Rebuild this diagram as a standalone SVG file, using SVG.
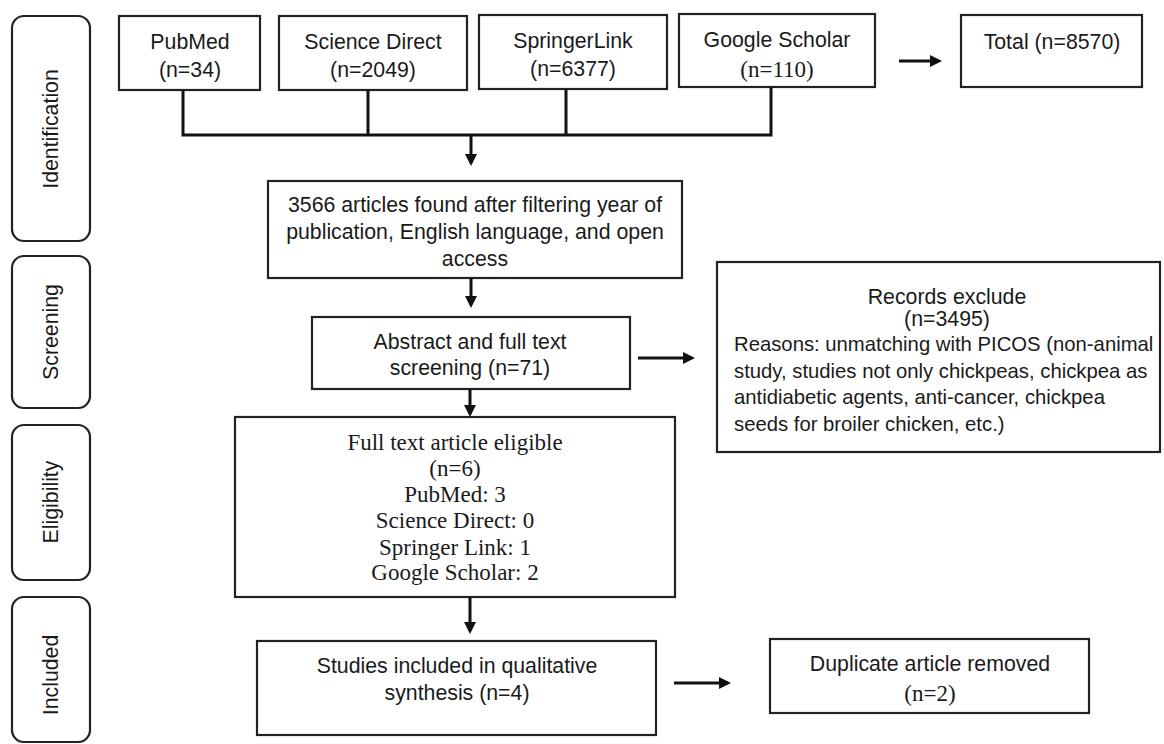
<svg xmlns="http://www.w3.org/2000/svg" width="1164" height="744" viewBox="0 0 1164 744">
<style>
.box{fill:#fff;stroke:#222;stroke-width:2.2}
.side{fill:#fff;stroke:#222;stroke-width:2.2}
.t{font-family:"Liberation Sans",Arial,sans-serif;font-size:21.3px;fill:#1a1a1a;text-anchor:middle}
.tl{font-family:"Liberation Sans",Arial,sans-serif;font-size:20.3px;fill:#1a1a1a}
.s{font-family:"Liberation Serif","Times New Roman",serif;font-size:23px;fill:#1a1a1a;text-anchor:middle}
.ln{fill:none;stroke:#111;stroke-width:3}
.ar{fill:none;stroke:#111;stroke-width:3;marker-end:url(#ah)}
</style>
<defs>
<marker id="ah" markerUnits="userSpaceOnUse" markerWidth="12" markerHeight="12" refX="9" refY="6" orient="auto">
<path d="M0,0 L12,6 L0,12 z" fill="#111"/>
</marker>
</defs>
<rect width="1164" height="744" fill="#fff"/>

<g id="stage-identification"><rect class="side" x="12" y="16" width="78" height="225" rx="12"/><text class="t" transform="translate(58,129) rotate(-90)">Identification</text></g>
<g id="stage-screening"><rect class="side" x="12" y="256" width="78" height="152" rx="12"/><text class="t" transform="translate(58,332) rotate(-90)">Screening</text></g>
<g id="stage-eligibility"><rect class="side" x="12" y="425" width="78" height="155" rx="12"/><text class="t" transform="translate(58,502) rotate(-90)">Eligibility</text></g>
<g id="stage-included"><rect class="side" x="12" y="597" width="78" height="145" rx="12"/><text class="t" transform="translate(58,675) rotate(-90)">Included</text></g>

<g id="pubmed"><rect class="box" x="119" y="16" width="141" height="74"/><text class="t" x="190" y="49">PubMed</text><text class="t" x="190" y="77">(n=34)</text></g>
<g id="sciencedirect"><rect class="box" x="279" y="16" width="188" height="74"/><text class="t" x="373" y="49">Science Direct</text><text class="t" x="373" y="77">(n=2049)</text></g>
<g id="springerlink"><rect class="box" x="479" y="15" width="188" height="74"/><text class="t" x="573" y="48">SpringerLink</text><text class="t" x="573" y="76">(n=6377)</text></g>
<g id="googlescholar"><rect class="box" x="679" y="14" width="196" height="73"/><text class="t" x="777" y="47">Google Scholar</text><text class="s" x="777" y="77">(n=110)</text></g>
<g id="total"><rect class="box" x="961" y="15" width="181" height="72"/><text class="t" x="1052" y="49">Total (n=8570)</text></g>

<g id="filtered"><rect class="box" x="268" y="181" width="414" height="97"/>
<text class="t" x="475" y="212">3566 articles found after filtering year of</text>
<text class="t" x="475" y="239">publication, English language, and open</text>
<text class="t" x="475" y="266">access</text></g>

<g id="screening"><rect class="box" x="312" y="317" width="318" height="72"/>
<text class="t" x="470" y="349">Abstract and full text</text>
<text class="t" x="470" y="375">screening (n=71)</text></g>

<g id="excluded"><rect class="box" x="717" y="262" width="443" height="190"/>
<text class="t" x="947" y="304">Records exclude</text>
<text class="t" x="947" y="326">(n=3495)</text>
<text class="tl" x="734" y="351">Reasons: unmatching with PICOS (non-animal</text>
<text class="tl" x="734" y="378">study, studies not only chickpeas, chickpea as</text>
<text class="tl" x="734" y="404">antidiabetic agents, anti-cancer, chickpea</text>
<text class="tl" x="734" y="431">seeds for broiler chicken, etc.)</text></g>

<g id="eligible"><rect class="box" x="235" y="417" width="440" height="180"/>
<text class="s" x="455" y="450">Full text article eligible</text>
<text class="s" x="455" y="476">(n=6)</text>
<text class="s" x="455" y="502">PubMed: 3</text>
<text class="s" x="455" y="528">Science Direct: 0</text>
<text class="s" x="455" y="555">Springer Link: 1</text>
<text class="s" x="455" y="580">Google Scholar: 2</text></g>

<g id="included"><rect class="box" x="257" y="641" width="399" height="94"/>
<text class="t" x="457" y="673">Studies included in qualitative</text>
<text class="t" x="457" y="700">synthesis (n=4)</text></g>

<g id="duplicate"><rect class="box" x="770" y="639" width="319" height="74"/>
<text class="t" x="930" y="671">Duplicate article removed</text>
<text class="s" x="930" y="701">(n=2)</text></g>

<g id="connectors">
<path class="ln" d="M183,90 V135 M368,90 V135 M566,89 V135 M771,87 V135 M181.5,135 H772.5"/>
<line class="ar" x1="471" y1="135" x2="471" y2="163"/>
<line class="ar" x1="899" y1="61" x2="939" y2="61"/>
<line class="ar" x1="471" y1="278" x2="471" y2="305"/>
<line class="ar" x1="638" y1="358" x2="692" y2="358"/>
<line class="ar" x1="470" y1="389" x2="470" y2="414"/>
<line class="ar" x1="470" y1="597" x2="470" y2="631"/>
<line class="ar" x1="674" y1="683" x2="728" y2="683"/>
</g>
</svg>
